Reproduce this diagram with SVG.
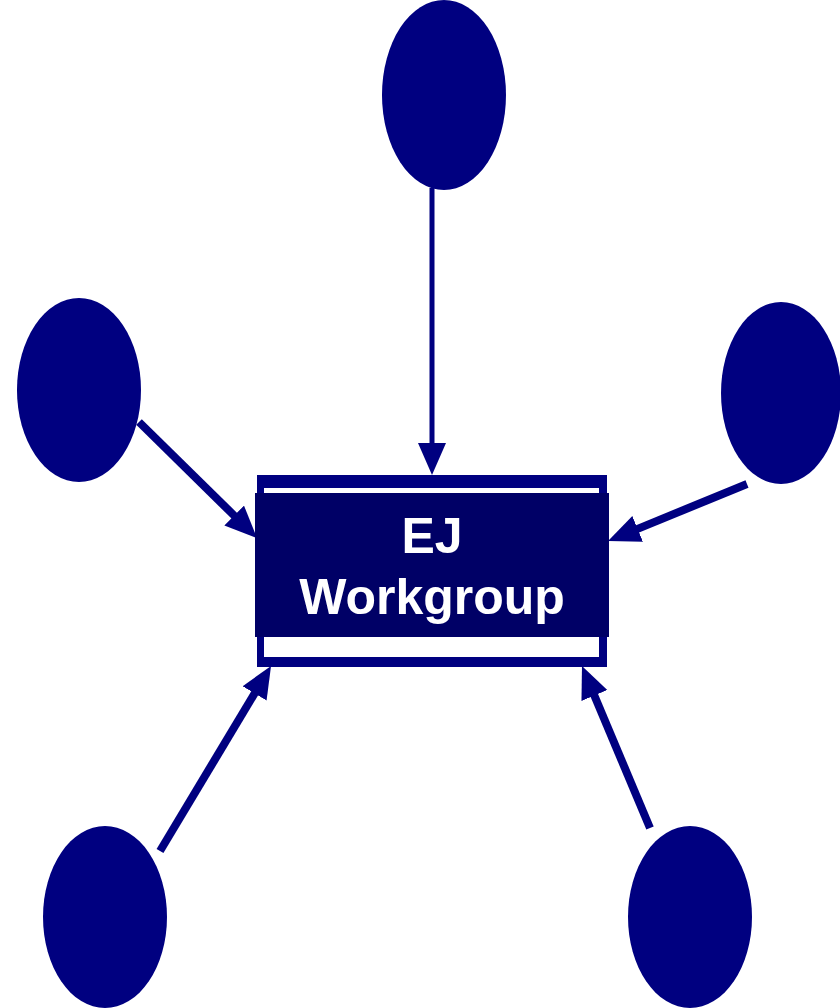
<svg xmlns="http://www.w3.org/2000/svg" width="840" height="1008" viewBox="0 0 840 1008">
<style>
.n{fill:#000080}
.c{stroke:#000080;stroke-width:8;fill:none;marker-end:url(#ah)}
.t{font-family:"Liberation Sans",Arial,sans-serif;font-weight:bold;font-size:50px;fill:#fff;text-anchor:middle}
</style>
<defs>
<marker id="ah" markerUnits="userSpaceOnUse" markerWidth="36" markerHeight="30" refX="2" refY="14" orient="auto" viewBox="0 0 36 30">
<path d="M0,0 L32,14 L0,28 z" fill="#000080"/>
</marker>
</defs>
<rect width="840" height="1008" fill="#fff"/>
<g id="connectors">
<line class="c" x1="432" y1="188" x2="432" y2="445" style="stroke-width:5"/>
<line class="c" x1="139" y1="422" x2="235.6" y2="517"/>
<line class="c" x1="747" y1="484" x2="635.8" y2="529.6"/>
<line class="c" x1="160" y1="851" x2="255.6" y2="691.7"/>
<line class="c" x1="650" y1="828" x2="593.6" y2="693.7"/>
</g>
<g id="n-top"><ellipse class="n" cx="444" cy="95" rx="62" ry="95"/></g>
<g id="n-left"><ellipse class="n" cx="79" cy="390" rx="62" ry="92"/></g>
<g id="n-right"><ellipse class="n" cx="781" cy="393" rx="60" ry="91"/></g>
<g id="n-bottomleft"><ellipse class="n" cx="105" cy="917" rx="62" ry="91"/></g>
<g id="n-bottomright"><ellipse class="n" cx="690" cy="917" rx="62" ry="91"/></g>
<g id="n-center">
<rect x="257" y="475" width="350" height="192" fill="#000080"/>
<rect x="264" y="488" width="335" height="169" fill="#fff"/>
<rect x="255" y="493" width="354" height="144" fill="#000066"/>
<text class="t" x="432" y="553">EJ</text>
<text class="t" x="432" y="614">Workgroup</text>
</g>
</svg>
